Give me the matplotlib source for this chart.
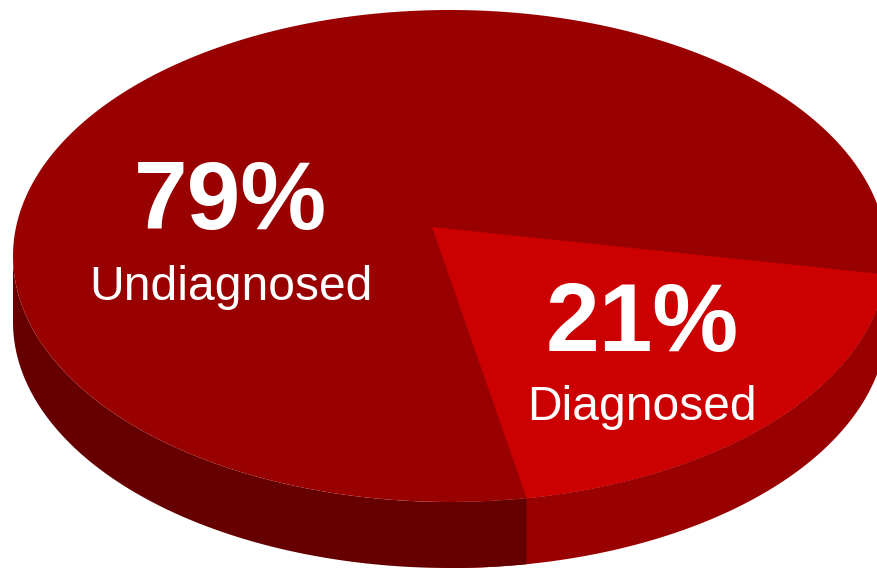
from matplotlib import pyplot as plt
import numpy as np

plt.rcParams['font.family'] = ['Liberation Sans', 'DejaVu Sans']

labels = ['Undiagnosed', 'Diagnosed']
shares = [79, 21]
percent_labels = ['79%', '21%']

TOP_COLOR = '#990000'
SLICE_COLOR = '#CC0000'
SIDE_DARK = '#660000'
SIDE_MID = '#990000'

# ellipse of the top face, in pixels
CX, CY = 450, 256
RX, RY = 437, 246
DEPTH = 66
APEX = (432, 227)
START = -4.3


def arc(a, b, dy=0):
    t = np.radians(np.linspace(a, b, 300))
    return CX + RX * np.cos(t), CY - RY * np.sin(t) + dy


def side(ax, a, b, color):
    x, y = arc(a, b)
    x2, y2 = arc(b, a, DEPTH)
    ax.fill(np.r_[x, x2], np.r_[y, y2], color=color, lw=0)


fig = plt.figure(figsize=(8.78, 5.7), dpi=100)
ax = fig.add_axes([0, 0, 1, 1])
ax.set_xlim(0, 878)
ax.set_ylim(570, 0)
ax.axis('off')

end = START - shares[1] / sum(shares) * 360

# sides, mid one runs under the dark one so no seam shows
side(ax, 270, 360, SIDE_MID)
side(ax, 180, 360 + end, SIDE_DARK)

# top face
x, y = arc(0, 360)
ax.fill(x, y, color=TOP_COLOR, lw=0)

# diagnosed slice
x, y = arc(START, end)
ax.fill(np.r_[APEX[0], x], np.r_[APEX[1], y], color=SLICE_COLOR, lw=0)

ax.text(230.5, 204, percent_labels[0], color='white', fontsize=69.5, fontweight='bold', ha='center', va='center')
ax.text(231, 288, labels[0], color='white', fontsize=34.6, ha='center', va='center')
ax.text(642, 326, percent_labels[1], color='white', fontsize=69.5, fontweight='bold', ha='center', va='center')
ax.text(641.5, 407.5, labels[1], color='white', fontsize=34.6, ha='center', va='center')

fig.savefig('out.png', dpi=100)
